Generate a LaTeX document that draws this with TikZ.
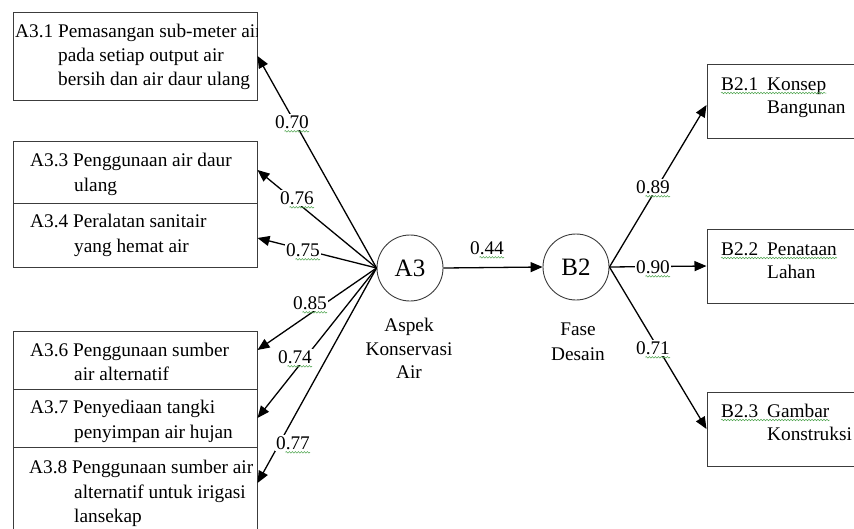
\documentclass[tikz,border=0pt]{standalone}
\usepackage{fontspec}
\setmainfont{Liberation Serif}
\usetikzlibrary{arrows.meta,decorations.pathmorphing}
\definecolor{spell}{RGB}{80,165,80}
\definecolor{edge}{RGB}{60,60,60}
\begin{document}
\begin{tikzpicture}[x=1pt,y=-1pt,
  box/.style={draw=edge,line width=1pt,inner sep=0pt},
  txt/.style={anchor=base west,inner sep=0pt,font=\fontsize{19.3}{24}\selectfont},
  ctxt/.style={anchor=base,inner sep=0pt,font=\fontsize{19.3}{24}\selectfont},
  lbl/.style={fill=white,inner sep=1.5pt,font=\fontsize{19.3}{24}\selectfont},
  circ/.style={circle,draw=edge,line width=0.9pt,minimum size=66pt,inner sep=0pt,font=\fontsize{25}{28}\selectfont},
  conn/.style={line width=1.3pt,-{Triangle[length=12pt,width=10pt]}},
  squig/.style={spell,line width=0.5pt,decorate,decoration={snake,amplitude=0.8pt,segment length=3pt}}
]
\clip (0,0) rectangle (854,528);
\fill[white] (0,0) rectangle (854,528);

% left boxes
\node[box,minimum width=244pt,minimum height=88pt] (b31) at (135,56) {};
\node[box,minimum width=244pt,minimum height=62pt] (b33) at (135,172) {};
\node[box,minimum width=244pt,minimum height=64pt] (b34) at (135,235) {};
\node[box,minimum width=244pt,minimum height=58pt] (b36) at (135,360) {};
\node[box,minimum width=244pt,minimum height=58pt] (b37) at (135,418) {};
\node[box,minimum width=244pt,minimum height=98pt] (b38) at (135,496) {};

% right boxes
\node[box,minimum width=173pt,minimum height=74pt] (b21) at (793.5,101) {};
\node[box,minimum width=173pt,minimum height=74pt] (b22) at (793.5,266) {};
\node[box,minimum width=173pt,minimum height=74pt] (b23) at (793.5,429) {};

% circles
\node[circ] (A3) at (410,268) {A3};
\node[circ] (B2) at (576,267) {B2};

% box texts
\begin{scope}
\clip (13,12) rectangle (257,100);
\node[txt] (t31a) at (15,37) {A3.1 Pemasangan sub-meter air};
\node[txt] (t31b) at (58,61) {pada setiap output air};
\node[txt] (t31c) at (58,85) {bersih dan air daur ulang};
\end{scope}
\node[txt] (t33a) at (30,166) {A3.3 Penggunaan air daur};
\node[txt] (t33b) at (74,191) {ulang};
\node[txt] (t34a) at (30,227) {A3.4 Peralatan sanitair};
\node[txt] (t34b) at (74,252) {yang hemat air};
\node[txt] (t36a) at (30,356) {A3.6 Penggunaan sumber};
\node[txt] (t36b) at (74,380) {air alternatif};
\node[txt] (t37a) at (30,413) {A3.7 Penyediaan tangki};
\node[txt] (t37b) at (74,438) {penyimpan air hujan};
\node[txt] (t38a) at (29,473) {A3.8 Penggunaan sumber air};
\node[txt] (t38b) at (74,498) {alternatif untuk irigasi};
\node[txt] (t38c) at (74,522) {lansekap};

\node[txt] (t21a) at (721,90) {B2.1};
\node[txt] (t21b) at (767,90) {Konsep};
\node[txt] (t21c) at (767,113) {Bangunan};
\node[txt] (t22a) at (721,255) {B2.2};
\node[txt] (t22b) at (767,255) {Penataan};
\node[txt] (t22c) at (767,278) {Lahan};
\node[txt] (t23a) at (721,417) {B2.3};
\node[txt] (t23b) at (767,417) {Gambar};
\node[txt] (t23c) at (767,440) {Konstruksi};
\draw[squig] ([yshift=-3pt]t21a.base west) -- ([yshift=-3pt]t21b.base east);
\draw[squig] ([yshift=-3pt]t22a.base west) -- ([yshift=-3pt]t22b.base east);
\draw[squig] ([yshift=-3pt]t23a.base west) -- ([yshift=-3pt]t23b.base east);

% circle captions
\node[ctxt] (c1) at (409,331) {Aspek};
\node[ctxt] (c2) at (409,355) {Konservasi};
\node[ctxt] (c3) at (409,378) {Air};
\node[ctxt] (c4) at (578,335) {Fase};
\node[ctxt] (c5) at (578,360) {Desain};

% connectors
\draw[conn] (A3.west) -- (b31.east);
\draw[conn] (A3.west) -- ([yshift=2pt]b33.east);
\draw[conn] (A3.west) -- ([yshift=-3pt]b34.east);
\draw[conn] (A3.west) -- ([yshift=10pt]b36.east);
\draw[conn] (A3.west) -- (b37.east);
\draw[conn] (A3.west) -- ([yshift=13pt]b38.east);
\draw[conn] (A3.east) -- (B2.west);
\draw[conn] (B2.east) -- ([yshift=-4pt]b21.west);
\draw[conn] (B2.east) -- (b22.west);
\draw[conn] (B2.east) -- (b23.west);

% labels
\foreach \n/\x/\y/\t in {l70/292/122/0.70, l76/297/198/0.76, l75/303/250/0.75,
  l85/310/303/0.85, l74/295/357/0.74, l77/293/443/0.77, l44/487/248/0.44,
  l89/653/187/0.89, l90/653/267/0.90, l71/653/348/0.71}{
  \node[lbl] (\n) at (\x,\y) {\t};
  \draw[squig] ([xshift=11pt,yshift=-3pt]\n.base west) -- ([xshift=-1.5pt,yshift=-3pt]\n.base east);
}
\end{tikzpicture}
\end{document}
